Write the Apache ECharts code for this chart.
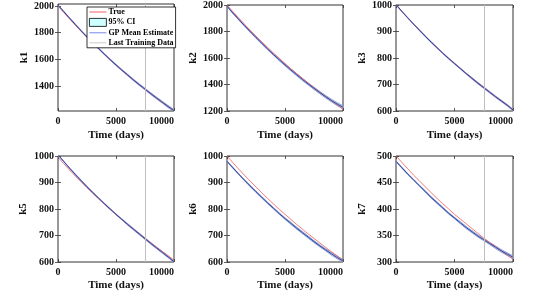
<!DOCTYPE html>
<html><head><meta charset="utf-8">
<script src="https://cdn.jsdelivr.net/npm/echarts@6/dist/echarts.min.js"></script>
<style>html,body{margin:0;padding:0;background:#fff}#c{width:547px;height:292px}</style>
</head><body><div id="c"></div>
<script>
const t = [0,500,1000,1500,2000,2500,3000,3500,4000,4500,5000,5500,6000,6500,7000,7500,8000,8500,9000,9500,10000];
const xTicks = [0,5000,10000];
const panelNames = ['k1','k2','k3','k5','k6','k7'];

const k1True = [2000,1951,1903,1856,1810,1766,1722,1680,1638,1598,1559,1520,1483,1447,1411,1376,1342,1309,1277,1246,1215];
const k1Mean = [2006,1958,1909,1861,1814,1768,1724,1681,1639,1598,1558,1520,1483,1446,1411,1377,1343,1310,1278,1246,1216];
const k1CI   = [3,3,3,4,4,4,4,5,5,5,5,5,6,6,6,6,7,7,7,8,8];

const k2True = [2000,1951,1903,1856,1810,1766,1722,1680,1638,1598,1559,1520,1483,1447,1411,1376,1342,1309,1277,1246,1212];
const k2Mean = [1990,1940,1892,1845,1799,1754,1711,1668,1627,1587,1548,1510,1474,1438,1404,1371,1339,1308,1279,1252,1228];
const k2CI   = [3,4,4,5,5,5,6,6,6,7,7,7,8,8,8,9,9,10,10,11,11];

const k3True = [1000,975,951,928,905,883,861,840,819,799,780,761,742,724,706,689,672,655,639,623,605];
const k3Mean = [1002,976,952,928,905,882,860,839,818,798,779,760,741,723,705,688,671,654,638,622,604];
const k3CI   = [1,1,1,1,2,2,2,2,2,2,2,2,2,3,3,3,3,3,3,3,3];

const k5True = [995,971,947,924,902,880,859,838,818,798,779,760,742,724,707,690,673,656,640,624,607];
const k5Mean = [1005,979,954,930,907,884,862,841,820,800,780,761,742,724,706,688,670,653,636,619,601];
const k5CI   = [1,1,1,2,2,2,2,2,2,2,2,2,3,3,3,3,3,3,3,3,3];

const k6True = [1000,975,951,928,905,883,861,840,819,799,780,761,742,724,706,689,672,655,639,623,607];
const k6Mean = [980,956,932,909,887,865,844,823,803,783,764,746,728,711,694,677,661,646,631,617,604];
const k6CI   = [2,2,2,2,3,3,3,3,3,3,3,4,4,4,4,4,4,4,5,5,5];

const k7True = [500,488,476,464,453,442,431,420,410,400,390,381,372,363,354,345,337,329,321,313,305];
const k7Mean = [490,478,466,455,444,433,422,412,402,392,383,374,365,357,349,342,335,328,321,315,309];
const k7CI   = [1,1,1,1,1,1.5,1.5,1.5,1.5,1.5,1.5,2,2,2,2,2,2,2.5,2.5,2.5,2.5];

const yMin = [1213,1200,600,600,600,300];
const yMax = [2015,2000,1000,1000,1000,500];
const yTicks = [[1400,1600,1800,2000],[1200,1400,1600,1800,2000],[600,700,800,900,1000],[600,700,800,900,1000],[600,700,800,900,1000],[300,350,400,450,500]];
const lastTraining = 7500;
const hasTrainLine = [true,false,true,true,false,true];

const trueData = [k1True,k2True,k3True,k5True,k6True,k7True];
const meanData = [k1Mean,k2Mean,k3Mean,k5Mean,k6Mean,k7Mean];
const ciData = [k1CI,k2CI,k3CI,k5CI,k6CI,k7CI];

// layout
const gridPos = [
  {left:58, top:4, width:116, height:107},
  {left:227, top:4, width:116, height:107},
  {left:396, top:4, width:117, height:107},
  {left:58, top:156, width:116, height:107},
  {left:227, top:156, width:116, height:107},
  {left:396, top:156, width:117, height:107}
];
const yNameGap = [25,25,28,29,25,28];
const xNameGap = [19,19,19,18,18,18];

const FONT = 'Liberation Serif';
const tickStyle = {inside:true, length:3, lineStyle:{color:'#333', width:0.8}};
const fmt = v => String(v);
const grid = [], xAxis = [], yAxis = [], series = [];

function bandItem(params, api) {
  const p = [
    api.coord([api.value(0), api.value(1)]),
    api.coord([api.value(3), api.value(4)]),
    api.coord([api.value(3), api.value(5)]),
    api.coord([api.value(0), api.value(2)])
  ];
  const cs = params.coordSys;
  const pts = echarts.graphic.clipPointsByRect(p, {x:cs.x, y:cs.y, width:cs.width, height:cs.height});
  return {type:'polygon', shape:{points:pts}, style:{fill:'#b7c9ea', stroke:'#b7c9ea', lineWidth:0.3}};
}

for (let i = 0; i < 6; i++) {
  grid.push(Object.assign({show:true, borderColor:'#333', borderWidth:1, backgroundColor:'#fff', containLabel:false}, gridPos[i]));
  xAxis.push({
    gridIndex:i, type:'value', min:0, max:10000, position:'bottom',
    axisLine:{show:false}, splitLine:{show:false},
    axisTick:Object.assign({customValues:xTicks}, tickStyle),
    axisLabel:{customValues:xTicks, formatter:fmt, margin:5, fontFamily:FONT, fontWeight:'bold', fontSize:10, color:'#111', alignMaxLabel:'right'},
    name:'Time (days)', nameLocation:'middle', nameGap:xNameGap[i],
    nameTextStyle:{fontFamily:FONT, fontWeight:'bold', fontSize:11, color:'#111', verticalAlign:'top'}
  });
  xAxis.push({
    gridIndex:i, type:'value', min:0, max:10000, position:'top',
    axisLine:{show:false}, splitLine:{show:false},
    axisTick:Object.assign({customValues:xTicks}, tickStyle),
    axisLabel:{show:false}
  });
  yAxis.push({
    gridIndex:i, type:'value', min:yMin[i], max:yMax[i], position:'left',
    axisLine:{show:false}, splitLine:{show:false},
    axisTick:Object.assign({customValues:yTicks[i]}, tickStyle),
    axisLabel:{customValues:yTicks[i], formatter:fmt, margin:4, fontFamily:FONT, fontWeight:'bold', fontSize:10, color:'#111'},
    name:panelNames[i], nameLocation:'middle', nameGap:yNameGap[i],
    nameTextStyle:{fontFamily:FONT, fontWeight:'bold', fontSize:11, color:'#111'}
  });
  yAxis.push({
    gridIndex:i, type:'value', min:yMin[i], max:yMax[i], position:'right',
    axisLine:{show:false}, splitLine:{show:false},
    axisTick:Object.assign({customValues:yTicks[i]}, tickStyle),
    axisLabel:{show:false}
  });
  const xi = 2*i, yi = 2*i;
  const m = meanData[i], c = ciData[i];
  const bandData = [];
  for (let j = 0; j < t.length - 1; j++) {
    bandData.push([t[j], m[j]-c[j], m[j]+c[j], t[j+1], m[j+1]-c[j+1], m[j+1]+c[j+1]]);
  }
  if (hasTrainLine[i]) {
    series.push({
      name:'Last Training Data', type:'line', xAxisIndex:xi, yAxisIndex:yi, data:[],
      color:'#c0c0c0', lineStyle:{color:'#c0c0c0', width:1}, symbol:'none', z:1,
      markLine:{silent:true, symbol:['none','none'], label:{show:false},
        lineStyle:{color:'#c0c0c0', width:1, type:'solid'}, data:[{xAxis:lastTraining}]}
    });
  }
  series.push({
    name:'95% CI', type:'custom', xAxisIndex:xi, yAxisIndex:yi, data:bandData,
    renderItem:bandItem, color:'#ccffff', z:2, silent:true,
    encode:{x:[0,3], y:[1,2,4,5]}
  });
  series.push({
    name:'_lo'+i, type:'line', xAxisIndex:xi, yAxisIndex:yi, data:t.map((x,j)=>[x, m[j]-c[j]]),
    symbol:'none', lineStyle:{color:'#7890c8', width:0.7}, z:2
  });
  series.push({
    name:'_hi'+i, type:'line', xAxisIndex:xi, yAxisIndex:yi, data:t.map((x,j)=>[x, m[j]+c[j]]),
    symbol:'none', lineStyle:{color:'#7890c8', width:0.7}, z:2
  });
  series.push({
    name:'True', type:'line', xAxisIndex:xi, yAxisIndex:yi, data:t.map((x,j)=>[x,trueData[i][j]]),
    symbol:'none', color:'#f05a5a', lineStyle:{color:'#f05a5a', width:0.8}, z:3
  });
  series.push({
    name:'GP Mean Estimate', type:'line', xAxisIndex:xi, yAxisIndex:yi, data:t.map((x,j)=>[x,m[j]]),
    symbol:'none', color:'#3444a8', lineStyle:{color:'#3444a8', width:1}, z:4
  });
}

const LINE_ICON = 'path://M0,0 L18,0 L18,1 L0,1 Z';
const chart = echarts.init(document.getElementById('c'), null, {renderer:'canvas'});
chart.setOption({
  animation:false,
  backgroundColor:'#fff',
  grid, xAxis, yAxis, series,
  legend:{
    orient:'vertical', left:87, top:7, z:10,
    backgroundColor:'#fff', borderColor:'#000', borderWidth:0.8,
    padding:[1,2,1,2], itemGap:2, itemWidth:17, itemHeight:8,
    textStyle:{fontFamily:FONT, fontWeight:'bold', fontSize:8, color:'#000', padding:[0,0,0,-3]},
    selectedMode:false,
    data:[
      {name:'True', icon:LINE_ICON, itemStyle:{color:'#f05a5a'}},
      {name:'95% CI', icon:'rect', itemStyle:{color:'#ccffff', borderColor:'#000', borderWidth:0.8}},
      {name:'GP Mean Estimate', icon:LINE_ICON, itemStyle:{color:'#7080e8'}},
      {name:'Last Training Data', icon:LINE_ICON, itemStyle:{color:'#c8c8c8'}}
    ]
  }
});
</script></body></html>
